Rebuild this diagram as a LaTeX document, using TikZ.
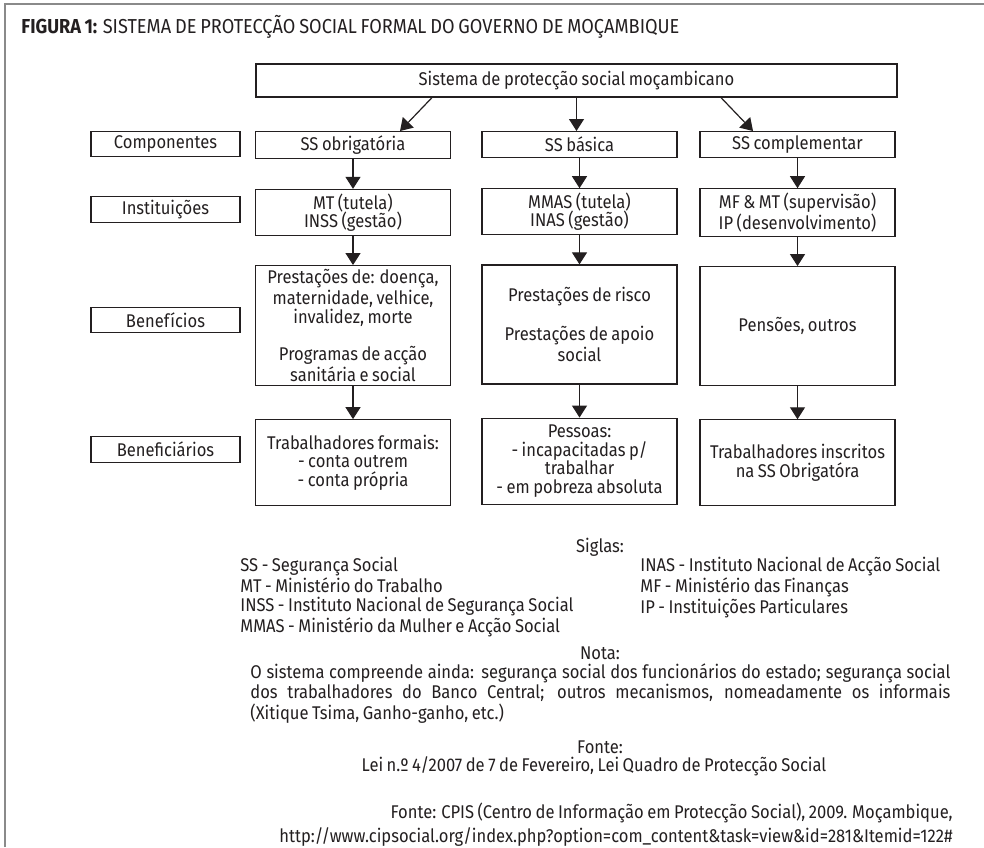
\documentclass[tikz,border=0pt]{standalone}
\usepackage{fontspec}
\setmainfont{Fira Sans}[FakeStretch=0.9, WordSpace=0.8]
\usepackage{tikz}
\usetikzlibrary{positioning,arrows.meta}

\definecolor{ink}{HTML}{231F20}
\definecolor{moldura}{HTML}{8A8A8A}
\newcommand{\corpo}{\fontsize{9.2pt}{9.25pt}\selectfont}
\newcommand{\titulofonte}{\fontsize{10.1pt}{10.5pt}\selectfont}

\begin{document}
\begin{tikzpicture}[
  x=0.5pt, y=-0.5pt,
  font=\corpo, text=ink,
  box/.style={draw=ink, line width=0.6pt, align=center, minimum width=97.5pt,
              inner sep=2pt},
  lbl/.style={draw=ink, line width=0.6pt, minimum width=74.5pt,
              minimum height=12.75pt, inner sep=1pt},
  txt/.style={inner sep=0pt},
  arr/.style={draw=ink, line width=0.6pt, -{Triangle[length=6pt,width=7.5pt]}}
]
\useasboundingbox (0,0) rectangle (984,847);

% frame and title
\draw[moldura, line width=0.8pt] (5,847) -- (5,4) -- (984,4);
\node[txt, anchor=base west, font=\titulofonte] (titulo) at (21,33)
  {\textbf{FIGURA 1:} SISTEMA DE PROTECÇÃO SOCIAL FORMAL DO GOVERNO DE MOÇAMBIQUE};

% top box
\node[box, minimum width=320.5pt, minimum height=16.5pt] (sistema) at (576.5,80.5)
  {Sistema de protecção social moçambicano};

% components
\node[box, minimum height=13pt, anchor=north] (comp1) at (353,131)   {SS obrigatória};
\node[box, minimum height=13pt, anchor=north] (comp2) at (579.5,131) {SS básica};
\node[box, minimum height=13pt, anchor=north] (comp3) at (797.5,131) {SS complementar};

% institutions
\node[box, minimum height=22pt, below=15pt of comp1] (inst1) {MT (tutela)\\INSS (gestão)};
\node[box, minimum height=22pt, below=15pt of comp2] (inst2) {MMAS (tutela)\\INAS (gestão)};
\node[box, minimum height=22pt, below=15pt of comp3] (inst3) {MF \& MT (supervisão)\\IP (desenvolvimento)};

% benefits
\node[box, minimum height=59.5pt, below=14.5pt of inst1] (ben1)
  {Prestações de: doença,\\maternidade, velhice,\\invalidez, morte\\[9.25pt]Programas de acção\\sanitária e social};
\node[box, minimum height=59.5pt, below=14.5pt of inst2] (ben2)
  {Prestações de risco\\[9.25pt]Prestações de apoio\\social};
\node[box, minimum height=59.5pt, below=14.5pt of inst3] (ben3) {Pensões, outros};

% beneficiaries
\node[box, minimum height=43pt, below=16.5pt of ben1] (alvo1)
  {Trabalhadores formais:\\- conta outrem\\- conta própria};
\node[box, minimum height=43pt, below=16.5pt of ben2] (alvo2)
  {Pessoas:\\- incapacitadas p/\\trabalhar\\- em pobreza absoluta};
\node[box, minimum height=43pt, below=16.5pt of ben3] (alvo3)
  {Trabalhadores inscritos\\na SS Obrigatóra};

% row labels
\node[lbl] (lcomp) at (165.5,144)   {Componentes};
\node[lbl] (linst) at (165.5,209.5) {Instituições};
\node[lbl] (lben)  at (165.5,320)   {Benefícios};
\node[lbl] (lalvo) at (165.5,449.5) {Beneficiários};

% arrows
\draw[arr] ([xshift=-72.25pt]sistema.south) -- ([xshift=23.5pt]comp1.north);
\draw[arr] (sistema.south) -- (sistema.south |- comp2.north);
\draw[arr] ([xshift=72.25pt]sistema.south) -- ([xshift=-22.25pt]comp3.north);
\foreach \c in {1,2,3} {
  \draw[arr] (comp\c) -- (inst\c);
  \draw[arr] (inst\c) -- (ben\c);
  \draw[arr] (ben\c) -- (alvo\c);
}

% acronyms
\node[txt] (siglas) at (600,547) {Siglas:};
\node[txt, anchor=north west, align=left] (sigesq) at (240,557)
  {SS - Segurança Social\\MT - Ministério do Trabalho\\INSS - Instituto Nacional de Segurança Social\\MMAS - Ministério da Mulher e Acção Social};
\node[txt, anchor=north west, align=left] (sigdir) at (640,557)
  {INAS - Instituto Nacional de Acção Social\\MF - Ministério das Finanças\\IP - Instituições Particulares};

% note
\node[txt] (notatit) at (600,653) {Nota:};
\node[txt, anchor=north west, text width=350pt, align=justify] (nota) at (250,663)
  {O sistema compreende ainda: segurança social dos funcionários do estado; segurança social\linebreak
   dos trabalhadores do Banco Central; outros mecanismos, nomeadamente os informais\linebreak
   (Xitique Tsima, Ganho-ganho, etc.)};

% sources
\node[txt] (fontetit) at (600,747) {Fonte:};
\node[txt] (lei) at (594,766) {Lei n.º 4/2007 de 7 de Fevereiro, Lei Quadro de Protecção Social};
\node[txt, anchor=north east, align=right] (cpis) at (953,803)
  {Fonte: CPIS (Centro de Informação em Protecção Social), 2009. Moçambique,\\[1pt]
   http://www.cipsocial.org/index.php?option=com\_content\&task=view\&id=281\&Itemid=122\#};
\end{tikzpicture}
\end{document}
